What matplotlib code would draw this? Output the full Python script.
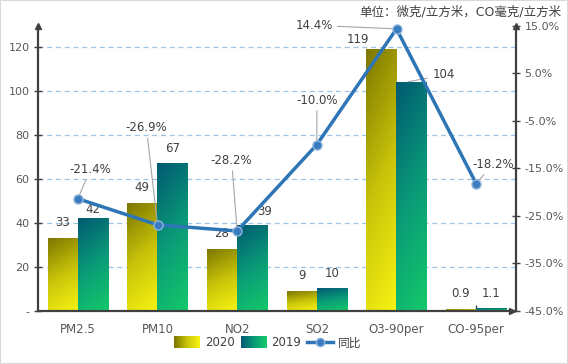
import numpy as np
import matplotlib
matplotlib.use('Agg')
import matplotlib.pyplot as plt
from matplotlib.colors import LinearSegmentedColormap
from matplotlib.legend_handler import HandlerBase
from matplotlib.image import BboxImage
from matplotlib.transforms import Bbox, TransformedBbox
from matplotlib.patches import Rectangle
from matplotlib.lines import Line2D

plt.rcParams['font.family'] = ['DejaVu Sans', 'Noto Sans CJK SC']

categories = ['PM2.5', 'PM10', 'NO2', 'SO2', 'O3-90per', 'CO-95per']
v2020 = [33, 49, 28, 9, 119, 0.9]
v2019 = [42, 67, 39, 10, 104, 1.1]
yoy = [-21.4, -26.9, -28.2, -10.0, 14.4, -18.2]
left_ticks = [0, 20, 40, 60, 80, 100, 120]
left_labels = ['-', '20', '40', '60', '80', '100', '120']
right_ticks = [15, 5, -5, -15, -25, -35, -45]

cmap20 = LinearSegmentedColormap.from_list('c20', ['#7d7700', '#c9c40a', '#f7f312'])
cmap19 = LinearSegmentedColormap.from_list('c19', ['#015a72', '#0a9a78', '#14c96a'])


def grad_array(n=64):
    yy, xx = np.mgrid[0:1:n * 1j, 0:1:n * 1j]
    # yy: 0 bottom -> 1 top ; dark at top-left
    return np.clip(0.8 * (1 - yy) + 0.2 * xx, 0, 1)


fig = plt.figure(figsize=(5.68, 3.64), dpi=100)
ax = fig.add_axes([38 / 568, 1 - 310.7 / 364, (516 - 38) / 568, (310.7 - 26) / 364])
ax2 = ax.twinx()

x = np.arange(len(categories))
w = 0.38
bars20 = ax.bar(x - w / 2, v2020, w, facecolor='none', edgecolor='none', zorder=2)
bars19 = ax.bar(x + w / 2, v2019, w, facecolor='none', edgecolor='none', zorder=2)
g = grad_array()
for bars, cm in ((bars20, cmap20), (bars19, cmap19)):
    for r in bars:
        bx, by, bw, bh = r.get_x(), r.get_y(), r.get_width(), r.get_height()
        ax.imshow(g, cmap=cm, vmin=0, vmax=1, origin='lower', aspect='auto',
                  extent=[bx, bx + bw, by, by + bh], zorder=2, interpolation='bilinear')

ax.set_xlim(-0.5, len(categories) - 0.5)
ax.set_ylim(0, 129.4)
ax2.set_ylim(-45, 15)

# bar labels
lab_col = '#404040'
off20 = [(0, 11)] * 6
off20[4] = (-17, 7)
off19 = [(0, 11)] * 6
off19[0] = (0, 6)
off19[2] = (9, 10)
for i, v in enumerate(v2020):
    ax.annotate(f'{v:g}', (x[i] - w / 2, v), xytext=off20[i], textcoords='offset points',
                ha='center', va='center', fontsize=8.5, color=lab_col, zorder=5)
for i, v in enumerate(v2019):
    if i == 4:
        ax.annotate(f'{v:g}', (x[i] + w / 2 - 0.05, v), xytext=(18, 5), textcoords='offset points',
                    ha='left', va='center', fontsize=8.5, color=lab_col, zorder=5,
                    arrowprops=dict(arrowstyle='-', color='#a6a6a6', lw=0.8, shrinkA=2, shrinkB=0))
        continue
    ax.annotate(f'{v:g}', (x[i] + w / 2, v), xytext=off19[i], textcoords='offset points',
                ha='center', va='center', fontsize=8.5, color=lab_col, zorder=5)

# line
ax2.plot(x, yoy, color='#2e75b6', lw=2.5, marker='o', ms=6.5, mfc='#3a7cc0',
         mec='#8fb4dc', mew=1, zorder=4, clip_on=False)
line_off = [(9, 21), (-8, 70), (-4, 51), (0, 32), (-59, 2.5), (12, 14)]
for i, v in enumerate(yoy):
    ax2.annotate(f'{v:.1f}%', (x[i], v), xytext=line_off[i], textcoords='offset points',
                 ha='center', va='center', fontsize=8.5, color=lab_col, zorder=6,
                 arrowprops=dict(arrowstyle='-', color='#a6a6a6', lw=0.8, shrinkA=1, shrinkB=3))

# axes styling
ax.set_yticks(left_ticks)
ax.set_yticklabels(left_labels)
ax2.set_yticks(right_ticks)
ax2.set_yticklabels([f'{t:.1f}%' for t in right_ticks])
ax.set_xticks(x)
ax.set_xticklabels(categories)

sp_col = '#404040'
for a in (ax, ax2):
    a.spines['top'].set_visible(False)
    for s in a.spines.values():
        s.set_color(sp_col)
        s.set_linewidth(1.6)
ax2.spines['left'].set_visible(False)
ax2.spines['bottom'].set_visible(False)
ax.spines['right'].set_visible(False)
ax.tick_params(axis='y', direction='inout', length=6, width=1, color=sp_col,
               labelcolor='#595959', labelsize=8, pad=3)
ax2.tick_params(axis='y', direction='inout', length=6, width=1, color=sp_col,
                labelcolor='#595959', labelsize=8, pad=3)
ax.tick_params(axis='x', direction='in', length=4, width=1, color=sp_col,
               labelcolor='#595959', labelsize=8.5, pad=9)

ax.yaxis.grid(True, color='#9fc3e9', ls=(0, (4, 3)), lw=0.9)
ax.set_axisbelow(True)
for gl, t in zip(ax.yaxis.get_gridlines(), left_ticks):
    if t == 0:
        gl.set_visible(False)

# arrows on the axes
ax.plot([0], [1], marker='^', ms=5, color=sp_col, transform=ax.transAxes, clip_on=False, zorder=7)
ax.plot([1], [1], marker='^', ms=5, color=sp_col, transform=ax.transAxes, clip_on=False, zorder=7)
ax.plot([0.992], [0], marker='>', ms=5, color=sp_col, transform=ax.transAxes, clip_on=False, zorder=7)

fig.text(561 / 568, 1 - 12 / 364, '单位：微克/立方米，CO毫克/立方米', ha='right', va='center',
         fontsize=9, color='#404040', family=['DejaVu Sans', 'Noto Sans CJK SC'])


class GradHandler(HandlerBase):
    def __init__(self, cm):
        super().__init__()
        self.cm = cm

    def create_artists(self, legend, orig_handle, xdescent, ydescent, width, height, fontsize, trans):
        bb = Bbox.from_bounds(-xdescent, -ydescent - 1, width, height + 2)
        img = BboxImage(TransformedBbox(bb, trans), cmap=self.cm, norm=plt.Normalize(0, 1),
                        interpolation='bilinear', origin='lower')
        arr = np.tile(np.linspace(0, 1, 32), (8, 1))
        img.set_data(arr)
        return [img]


h20 = Rectangle((0, 0), 1, 1, color='#c9c40a')
h19 = Rectangle((0, 0), 1, 1, color='#0a9a78')
hl = Line2D([], [], color='#2e75b6', lw=2.5, marker='o', ms=6, mfc='#3a7cc0', mec='#8fb4dc')
fig.legend([h20, h19, hl], ['2020', '2019', '同比'], loc='center',
           bbox_to_anchor=(268 / 568, 1 - 343 / 364), ncol=3, frameon=False,
           fontsize=8.5, handlelength=2.2, handletextpad=0.4, columnspacing=0.5,
           labelcolor='#404040',
           handler_map={h20: GradHandler(cmap20), h19: GradHandler(cmap19)})

fig.patches.append(Rectangle((0, 0), 1, 1, transform=fig.transFigure, fill=False,
                             ec='#d9d9d9', lw=1.5))

fig.savefig('out.png', dpi=100)
